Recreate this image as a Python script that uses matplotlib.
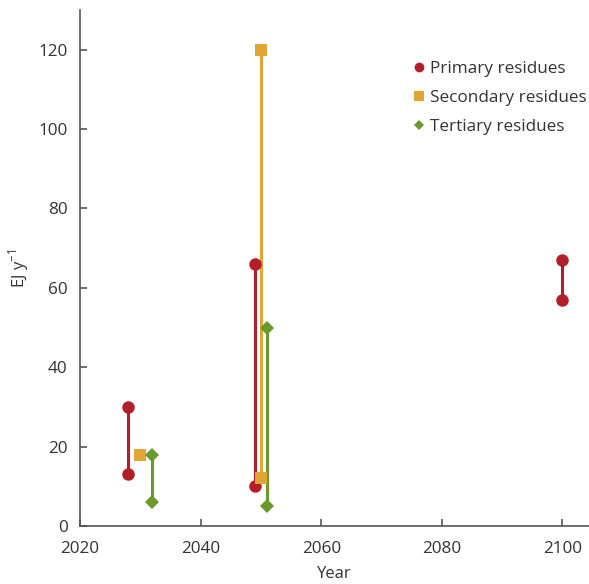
import matplotlib
matplotlib.use("Agg")
import matplotlib.pyplot as plt
from matplotlib.lines import Line2D

plt.rcParams['font.family'] = ['Open Sans', 'DejaVu Sans']

# Data
primary_x = [2028, 2049, 2100]
primary_low = [13, 10, 57]
primary_high = [30, 66, 67]

secondary_x = [2030, 2050]
secondary_low = [18, 12]
secondary_high = [18, 120]

tertiary_x = [2032, 2051]
tertiary_low = [6, 5]
tertiary_high = [18, 50]

xticks = [2020, 2040, 2060, 2080, 2100]
yticks = [0, 20, 40, 60, 80, 100, 120]

c_primary = '#B21F2A'
c_secondary = '#E0A535'
c_tertiary = '#6A9A2B'

fig = plt.figure(figsize=(5.89, 5.84), dpi=100)
ax = fig.add_axes([0.1358, 0.0993, 0.8642, 0.8837])

def draw(xs, lows, highs, color, marker, ms):
    for x, lo, hi in zip(xs, lows, highs):
        ax.plot([x, x], [lo, hi], color=color, lw=2.2, solid_capstyle='butt', zorder=2)
        ax.plot([x, x], [lo, hi], linestyle='none', marker=marker, color=color,
                markersize=ms, markeredgewidth=0, zorder=3)

draw(primary_x, primary_low, primary_high, c_primary, 'o', 9)
draw(secondary_x, secondary_low, secondary_high, c_secondary, 's', 8.5)
draw(tertiary_x, tertiary_low, tertiary_high, c_tertiary, 'D', 7)

ax.set_xlim(2020, 2104.4)
ax.set_ylim(0, 130)
ax.set_xticks(xticks)
ax.set_yticks(yticks)

for s in ['top', 'right']:
    ax.spines[s].set_visible(False)
for s in ['left', 'bottom']:
    ax.spines[s].set_color('#555555')
    ax.spines[s].set_linewidth(1.2)

ax.tick_params(direction='in', length=5, width=1.2, color='#555555',
               labelsize=12.3, labelcolor='#333333')
ax.tick_params(axis='x', pad=11)
ax.tick_params(axis='y', pad=9)

ax.set_xlabel('Year', fontsize=12, color='#333333', labelpad=6)
ax.set_ylabel('EJ y$^{\\mathregular{-1}}$', fontsize=12, color='#333333', labelpad=5)

handles = [
    Line2D([], [], linestyle='none', marker='o', color=c_primary, markersize=7, markeredgewidth=0),
    Line2D([], [], linestyle='none', marker='s', color=c_secondary, markersize=7, markeredgewidth=0),
    Line2D([], [], linestyle='none', marker='D', color=c_tertiary, markersize=5, markeredgewidth=0),
]
ax.legend(handles, ['Primary residues', 'Secondary residues', 'Tertiary residues'],
          loc='upper right', bbox_to_anchor=(1.025, 0.93), frameon=False, fontsize=12.3,
          handlelength=0.6, handletextpad=0.3, labelspacing=0.75, labelcolor='#333333')

fig.savefig('out.png', dpi=100)
